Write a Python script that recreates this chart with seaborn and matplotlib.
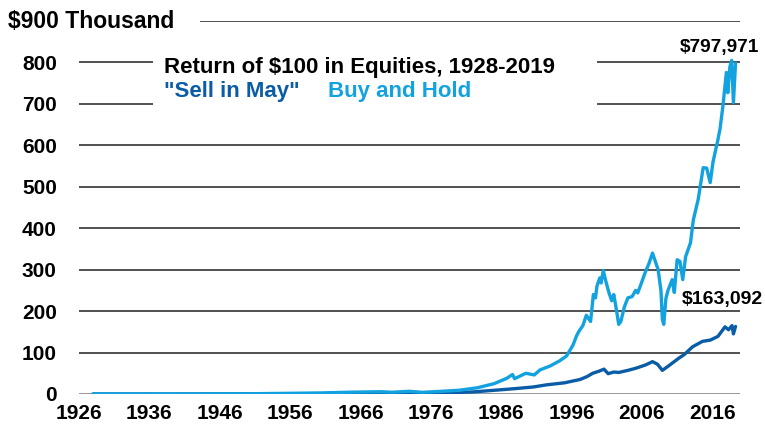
import matplotlib
matplotlib.use("Agg")
import matplotlib.pyplot as plt
import seaborn as sns
from matplotlib.patches import Rectangle

# Values in $ thousand
hold_years = [1928.0, 1929.7, 1932.5, 1937.0, 1942.0, 1946.0, 1950.0, 1955.0, 1960.0,
              1965.0, 1968.9, 1970.5, 1972.9, 1974.8, 1977.0, 1980.0, 1982.6, 1985.0,
              1986.8, 1987.6, 1987.9, 1989.5, 1990.7, 1991.5, 1993.0, 1994.3, 1995.3,
              1996.2, 1996.7, 1997.0, 1997.6, 1998.1, 1998.7, 1999.1, 1999.4, 1999.6,
              2000.0, 2000.2, 2000.5, 2000.9, 2001.3, 2001.7, 2002.0, 2002.4, 2002.7,
              2003.0, 2003.5, 2004.0, 2004.6, 2005.1, 2005.4, 2005.8, 2006.5, 2007.0,
              2007.5, 2007.9, 2008.3, 2008.7, 2008.9, 2009.1, 2009.4, 2009.7, 2010.3,
              2010.6, 2011.0, 2011.4, 2011.8, 2012.2, 2012.9, 2013.3, 2014.0, 2014.7,
              2015.2, 2015.7, 2016.1, 2016.8, 2017.1, 2017.5, 2018.0, 2018.2, 2018.5,
              2018.75, 2019.0, 2019.3]
hold_values = [0.1, 0.15, 0.03, 0.2, 0.15, 0.4, 0.5, 1.5, 2.5,
               4.5, 5.5, 4.2, 6.5, 4.0, 6, 9, 15, 25,
               38, 47, 37, 50, 46, 58, 68, 80, 92,
               118, 140, 150, 165, 190, 175, 240, 232, 260,
               280, 268, 298, 270, 245, 225, 240, 200, 168,
               175, 210, 232, 235, 250, 244, 262, 295, 315,
               340, 320, 300, 250, 180, 168, 230, 250, 276,
               245, 324, 320, 276, 331, 365, 420, 470, 546,
               545, 510, 560, 614, 640, 694, 776, 727, 790,
               805, 703, 798]

may_years = [1928, 1940, 1950, 1960, 1970, 1975, 1978.7, 1982, 1985.8, 1988, 1990.6,
             1992.4, 1995.0, 1997.2, 1998.2, 1999.0, 1999.9, 2000.6, 2001.2, 2002.0,
             2002.7, 2004.0, 2005.1, 2006.5, 2007.5, 2008.2, 2008.9, 2009.8, 2011.2,
             2012.0, 2013.2, 2014.6, 2015.7, 2016.8, 2017.8, 2018.3, 2018.8, 2019.0, 2019.3]
may_values = [0.1, 0.1, 0.3, 0.7, 1.2, 1.8, 3, 5, 10, 13, 17,
              22, 27, 35, 42, 50, 55, 60, 49, 53,
              52, 57, 62, 70, 78, 72, 57, 68, 86,
              95, 114, 127, 130, 139, 162, 155, 165, 145, 163]

x_ticks = [1926, 1936, 1946, 1956, 1966, 1976, 1986, 1996, 2006, 2016]
y_ticks = [0, 100, 200, 300, 400, 500, 600, 700, 800, 900]

DARK = "#0B5CA6"
LIGHT = "#12A2E0"

sns.set_style("white")
plt.rcParams["font.family"] = ["Liberation Sans", "DejaVu Sans"]
plt.rcParams["font.weight"] = "bold"
plt.rcParams["text.color"] = "black"
plt.rcParams["xtick.color"] = "black"
plt.rcParams["ytick.color"] = "black"

fig = plt.figure(figsize=(7.65, 4.29), dpi=100)
ax = fig.add_axes([0.1033, 0.0816, 0.8637, 0.8694])

sns.lineplot(x=may_years, y=may_values, color=DARK, linewidth=2.4, ax=ax, zorder=3)
sns.lineplot(x=hold_years, y=hold_values, color=LIGHT, linewidth=2.4, ax=ax, zorder=4)

ax.set_xlim(1926, 2019.9)
ax.set_ylim(0, 900)
ax.set_xticks(x_ticks)
ax.set_yticks(y_ticks)
ax.set_yticklabels([str(v) for v in y_ticks[:-1]] + [""])
ax.tick_params(axis="both", length=0, labelsize=15, labelcolor="black")
ax.tick_params(axis="y", pad=16)
ax.tick_params(axis="x", pad=7)
for lab in ax.get_xticklabels() + ax.get_yticklabels():
    lab.set_fontweight("bold")

for s in ax.spines.values():
    s.set_visible(False)
ax.grid(axis="y", color="#222222", linewidth=1.1, zorder=1)
ax.grid(axis="x", visible=False)
ax.axhline(0, color="#aaaaaa", linewidth=1.2, zorder=2)

# white boxes covering the gridlines behind the text
ax.add_patch(Rectangle((0.112, 0.761), 0.672, 0.148, transform=ax.transAxes,
                       facecolor="white", edgecolor="none", zorder=2))
ax.add_patch(Rectangle((-0.2, 0.97), 0.383, 0.06, transform=ax.transAxes,
                       facecolor="white", edgecolor="none", zorder=2, clip_on=False))

ax.text(1938.1, 787, "Return of $100 in Equities, 1928-2019", fontsize=16,
        fontweight="bold", color="black", va="center", ha="left", zorder=5)
ax.text(1938.1, 729, "\"Sell in May\"", fontsize=16, fontweight="bold",
        color=DARK, va="center", ha="left", zorder=5)
ax.text(1961.4, 729, "Buy and Hold", fontsize=16, fontweight="bold",
        color=LIGHT, va="center", ha="left", zorder=5)
ax.text(2022.7, 835, "$797,971", fontsize=13.7, fontweight="bold", ha="right",
        va="center", clip_on=False, zorder=5)
ax.text(2011.6, 227, "$163,092", fontsize=14, fontweight="bold", ha="left",
        va="center", zorder=5)
fig.text(8 / 765, 1 - 21 / 429, "$900 Thousand", fontsize=16.5, fontweight="bold",
         ha="left", va="center")

fig.savefig("out.png", dpi=100)
